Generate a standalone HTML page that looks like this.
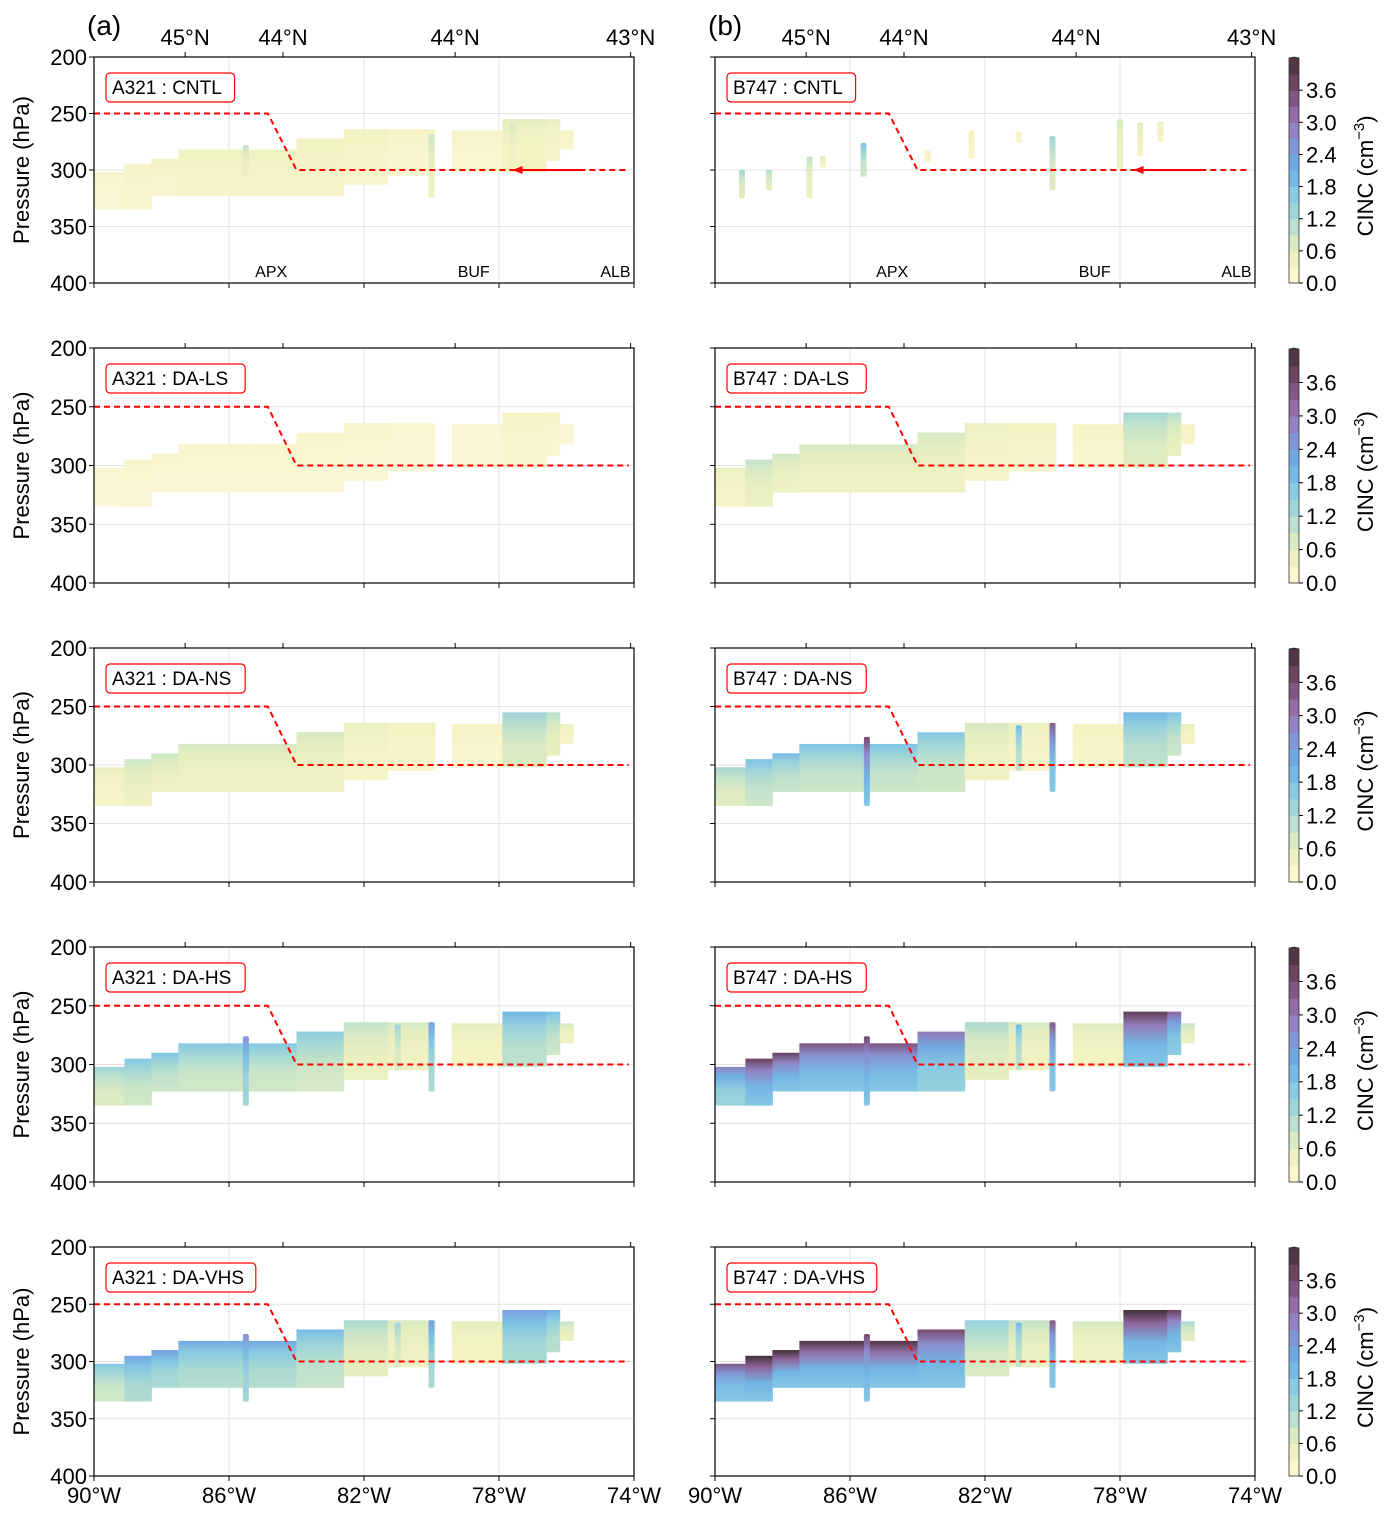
<!DOCTYPE html>
<html><head><meta charset="utf-8">
<style>
body{margin:0;background:#fff;}
svg text{font-family:"Liberation Sans",sans-serif;fill:#000;}
</style></head>
<body>
<svg id="fig" width="1389" height="1514" viewBox="0 0 1389 1514" xmlns="http://www.w3.org/2000/svg">
<defs></defs>
</svg>
<script>
// ---- data ----
const experiments = ["CNTL","DA-LS","DA-NS","DA-HS","DA-VHS"];
const aircraft = ["A321","B747"];
const lonTicks = [-90,-86,-82,-78,-74];
const lonTickLabels = ["90°W","86°W","82°W","78°W","74°W"];
const presTicks = [200,250,300,350,400];
const latTickLons = [-87.3,-84.4,-79.3,-74.1];
const latTickLabels = ["45°N","44°N","44°N","43°N"];
const cbTicks = [0.0,0.6,1.2,1.8,2.4,3.0,3.6];
const stations = ["APX","BUF","ALB"];
const stationLons = [-84.75,-78.75,-74.55];
// flight track
const trackLon = [-90,-84.85,-84.0,-74.15];
const trackP = [250,250,300,300];
// cloud envelope segments
const segStart = [-90.0,-89.1,-88.3,-87.5,-84.0,-82.6,-81.3,-79.4,-77.9,-76.6,-76.2];
const segEnd   = [-89.1,-88.3,-87.5,-84.0,-82.6,-81.3,-79.9,-77.9,-76.6,-76.2,-75.8];
const segTop   = [302,295,290,282,272,264,264,265,255,255,265];
const segBot   = [335,335,323,323,323,313,305,302,302,292,282];
// intensity per segment (cm^-3), top-of-cloud value
const valA_CNTL = [0.2,0.3,0.35,0.45,0.45,0.4,0.3,0.25,0.6,0.5,0.3];
const valA_LS   = [0.15,0.2,0.2,0.2,0.2,0.2,0.15,0.12,0.3,0.25,0.12];
const valA_NS   = [0.5,0.9,0.9,0.8,0.8,0.5,0.4,0.3,1.4,1.1,0.5];
const valA_HS   = [1.4,1.7,1.8,1.7,1.6,1.0,0.8,0.6,2.0,1.8,0.8];
const valA_VHS  = [1.7,2.3,2.4,2.2,1.9,1.2,0.8,0.6,2.4,2.1,1.0];
const valB_CNTL = [null,null,null,null,null,null,null,null,null,null,null];
const valB_LS   = [0.5,1.0,0.9,0.8,0.8,0.5,0.4,0.3,1.3,1.1,0.4];
const valB_NS   = [1.3,1.8,1.9,1.8,1.7,0.8,0.5,0.4,2.0,1.8,0.6];
const valB_HS   = [2.8,3.8,3.8,3.5,3.0,1.2,0.8,0.7,3.9,3.2,1.0];
const valB_VHS  = [3.4,4.3,4.3,4.1,3.6,1.5,1.0,0.8,4.3,3.8,1.3];
// streaks: lon, top, bottom, value
const strA_CNTL = [[-85.5,278,305,1.0],[-80.0,268,325,0.9],[-77.6,258,300,0.8]];
const strB_CNTL = [[-89.2,300,325,1.3],[-88.4,300,318,1.2],[-87.2,288,325,1.0],[-86.8,288,298,0.7],[-85.6,276,306,1.8],[-83.7,283,293,0.4],[-82.4,265,290,0.4],[-81.0,266,276,0.3],[-80.0,270,318,1.4],[-78.0,255,300,0.8],[-77.4,258,288,0.7],[-76.8,257,275,0.5]];
const strHS = [[-85.5,276,335,2.6],[-80.0,264,323,2.4],[-81.0,266,305,1.4]];
const valsA = [valA_CNTL,valA_LS,valA_NS,valA_HS,valA_VHS];
const valsB = [valB_CNTL,valB_LS,valB_NS,valB_HS,valB_VHS];
const strA = [strA_CNTL,[],[],strHS,strHS];
const strB = [strB_CNTL,[],strHS,strHS,strHS];

// ---- layout ----
const rowsY = [[57,283],[348,583],[648,882],[947,1182],[1247,1476]];
const colsX = [[94,634],[715,1255]];
const cbX = 1289, cbW = 10;
const NS = "http://www.w3.org/2000/svg";
const svg = document.getElementById('fig');
function mk(tag, attrs, parent){const e=document.createElementNS(NS,tag);for(const k in attrs)e.setAttribute(k,attrs[k]);(parent||svg).appendChild(e);return e;}
const cmapStops = [[0,[252,248,220]],[0.3,[245,243,196]],[0.6,[230,238,190]],[0.9,[205,230,200]],[1.2,[170,218,210]],[1.5,[150,208,222]],[1.8,[125,195,230]],[2.1,[110,175,228]],[2.4,[118,160,222]],[2.7,[140,140,205]],[3.0,[150,120,180]],[3.3,[140,95,150]],[3.6,[120,75,110]],[3.9,[95,60,80]],[4.2,[66,48,55]]];
function cmap(v){v=Math.max(0,Math.min(4.2,v));for(let i=1;i<cmapStops.length;i++){if(v<=cmapStops[i][0]){const a=cmapStops[i-1],b=cmapStops[i];const t=(v-a[0])/(b[0]-a[0]);return 'rgb('+a[1].map((c,j)=>Math.round(c+(b[1][j]-c)*t)).join(',')+')';}}return 'rgb(66,48,55)';}
let gid=0;
function vgrad(v){const id='g'+(gid++);const lg=mk('linearGradient',{id:id,x1:0,y1:0,x2:0,y2:1},svg.querySelector('defs'));
  mk('stop',{offset:'0',"stop-color":cmap(v)},lg);
  mk('stop',{offset:'0.25',"stop-color":cmap(v*0.75)},lg);
  mk('stop',{offset:'0.6',"stop-color":cmap(Math.min(v*0.55,2.0))},lg);
  mk('stop',{offset:'1',"stop-color":cmap(Math.min(v*0.5,1.7))},lg);
  return 'url(#'+id+')';}

for(let r=0;r<5;r++){
  for(let c=0;c<2;c++){
    const [x0,x1]=colsX[c],[y0,y1]=rowsY[r];
    const xs=lon=>x0+(lon+90)/16*(x1-x0);
    const ys=p=>y0+(p-200)/200*(y1-y0);
    const g=mk('g',{});
    
    
    [-86,-82,-78].forEach(l=>{const ln=mk('line',{x1:xs(l),x2:xs(l),y1:y0,y2:y1,stroke:'#e3e3e3','stroke-width':1},g);});
    [250,300,350].forEach(p=>{const ln=mk('line',{x1:x0,x2:x1,y1:ys(p),y2:ys(p),stroke:'#e3e3e3','stroke-width':1},g);});
    const vals=(c===0?valsA:valsB)[r];
    for(let i=0;i<segStart.length;i++){
      if(vals[i]===null)continue;
      const rc=mk('rect',{x:xs(segStart[i]),y:ys(segTop[i]),width:xs(segEnd[i])-xs(segStart[i])+0.5,height:ys(segBot[i])-ys(segTop[i]),fill:vgrad(vals[i])},g);
      
      
    }
    const strs=(c===0?strA:strB)[r];
    strs.forEach(s=>{
      const v=(r===0)?s[3]:s[3]*(c===1?1.4:1);
      const rc=mk('rect',{x:xs(s[0])-3,y:ys(s[1]),width:6,height:ys(s[2])-ys(s[1]),fill:vgrad(v),rx:2},g);
      
      
    });
    const pts=trackLon.map((l,i)=>xs(l)+','+ys(trackP[i])).join(' ');
    const tr=mk('polyline',{points:pts,fill:'none',stroke:'#ff0000','stroke-width':2,'stroke-dasharray':'6,4'},g);
    
    
    if(r===0){
      const ar=mk('line',{x1:xs(-75.6),x2:xs(-77.5),y1:ys(300),y2:ys(300),stroke:'#ff0000','stroke-width':2},g);
      
      
      const ah=mk('polygon',{points:(xs(-77.6))+','+ys(300)+' '+(xs(-77.6)+10)+','+(ys(300)-4)+' '+(xs(-77.6)+10)+','+(ys(300)+4),fill:'#ff0000'},g);
      
      
      stations.forEach((s,i)=>{const t=mk('text',{x:xs(stationLons[i]),y:y1-6,'font-size':16,'text-anchor':'middle'},g);t.textContent=s;});
    }
    const fr=mk('rect',{x:x0,y:y0,width:x1-x0,height:y1-y0,fill:'none',stroke:'#000','stroke-width':1.2},g);
    
    
    const lbl=aircraft[c]+' : '+experiments[r];
    const bw=lbl.length*10.6+12;
    const bx=mk('rect',{x:x0+12,y:y0+16,width:bw,height:29,rx:4,fill:'#fff',stroke:'#ff0000','stroke-width':1.2},g);
    
    
    const lt=mk('text',{x:x0+18,y:y0+37,'font-size':19},g);lt.textContent=lbl;
    
    
    presTicks.forEach(p=>{mk('line',{x1:x0-5,x2:x0,y1:ys(p),y2:ys(p),stroke:'#000','stroke-width':1},g);
      if(c===0){const t=mk('text',{x:x0-7,y:ys(p)+8,'font-size':22,'text-anchor':'end'},g);t.textContent=p;}});
    if(c===0){const yt=mk('text',{x:0,y:0,'font-size':22,'text-anchor':'middle',transform:'translate(29,'+((y0+y1)/2)+') rotate(-90)'},g);yt.textContent='Pressure (hPa)';}
    lonTicks.forEach((l,i)=>{mk('line',{x1:xs(l),x2:xs(l),y1:y1,y2:y1+5,stroke:'#000','stroke-width':1},g);
      if(r===4){const t=mk('text',{x:xs(l),y:y1+27,'font-size':22,'text-anchor':'middle'},g);t.textContent=lonTickLabels[i];}});
    latTickLons.forEach((l,i)=>{mk('line',{x1:xs(l),x2:xs(l),y1:y0-5,y2:y0,stroke:'#000','stroke-width':1},g);
      if(r===0){const t=mk('text',{x:xs(l),y:y0-12,'font-size':22,'text-anchor':'middle'},g);t.textContent=latTickLabels[i];}});
    if(r===0){const pt=mk('text',{x:x0-7,y:35,'font-size':28},g);pt.textContent=c===0?'(a)':'(b)';}
  }
  const [y0,y1]=rowsY[r];
  const k=0.237*(y1-y0);
  const cg=mk('g',{});
  
  
  for(let i=0;i<14;i++){const v0=i*0.3;mk('rect',{x:cbX,y:y1-(v0+0.3)*k,width:cbW,height:0.3*k+0.5,fill:cmap(v0+0.15)},cg);}
  const topY=y1-4.2*k;
  mk('polygon',{points:cbX+','+topY+' '+(cbX+cbW)+','+topY+' '+(cbX+cbW/2)+','+y0,fill:cmap(4.2),stroke:'#333','stroke-width':0.8},cg);
  mk('rect',{x:cbX,y:topY,width:cbW,height:y1-topY,fill:'none',stroke:'#333','stroke-width':0.8},cg);
  cbTicks.forEach(v=>{mk('line',{x1:cbX+cbW,x2:cbX+cbW+4,y1:y1-v*k,y2:y1-v*k,stroke:'#000'},cg);
    const t=mk('text',{x:cbX+cbW+7,y:y1-v*k+8,'font-size':22},cg);t.textContent=v.toFixed(1);});
  const ct=mk('text',{x:0,y:0,'font-size':22,'text-anchor':'middle',transform:'translate(1373,'+(y1-2*k)+') rotate(-90)'},cg);
  ct.innerHTML='CINC (cm<tspan dy="-9" font-size="15">−3</tspan><tspan dy="9">)</tspan>';
  
  
}
</script>
</body></html>
